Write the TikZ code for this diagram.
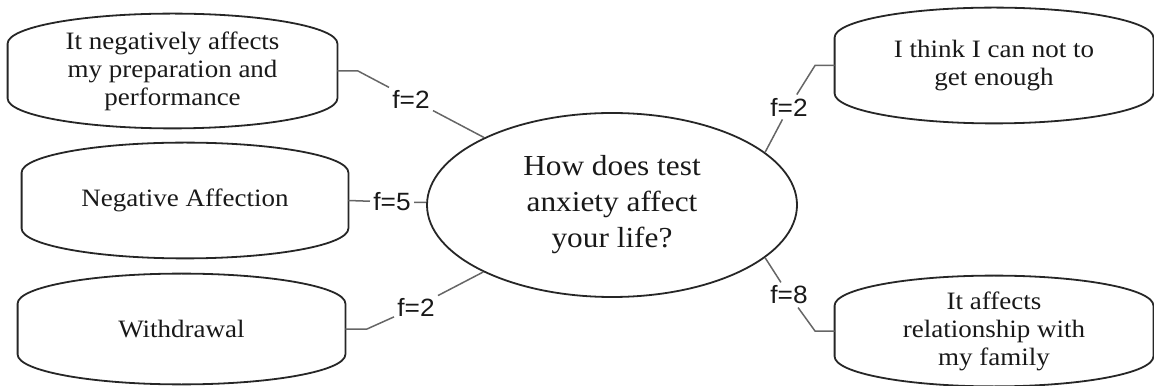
\documentclass[tikz,border=0pt]{standalone}
\usepackage{fontspec}
\setmainfont{Liberation Serif}[FakeStretch=1.08]
\newfontfamily\labelfont{Liberation Sans}[FakeStretch=1.05]
\usetikzlibrary{shapes.geometric, calc}

\tikzset{
  capbox/.style={align=center, inner sep=0pt, text=black!90, font=\fontsize{12.5}{14}\selectfont},
  capline/.style={draw=black!85, line width=0.9pt},
  link/.style={draw=black!60, line width=0.75pt},
  freq/.style={font=\labelfont\fontsize{12.5}{13}\selectfont, inner sep=1.5pt, text=black!90}
}

\begin{document}
\begin{tikzpicture}[x=0.5pt, y=0.5pt]
\useasboundingbox (0,0) rectangle (1154,385);

\node[draw=black!85, line width=0.9pt, ellipse, minimum width=185pt, minimum height=92pt, inner sep=0pt, align=center, text=black!90, font=\fontsize{14.5}{18}\selectfont] (q) at (612,180) {How does test\\anxiety affect\\your life?};

\node[capbox, minimum width=164.5pt, minimum height=57pt] (b1) at (172.5,314) {It negatively affects\\my preparation and\\performance};
\node[capbox, minimum width=163pt, minimum height=57.5pt] (b2) at (185,184.5) {Negative Affection};
\node[capbox, minimum width=163.5pt, minimum height=55pt] (b3) at (181.5,56) {Withdrawal};
\node[capbox, minimum width=159pt, minimum height=57.5pt] (b4) at (994,319.5) {I think I can not to\\get enough};
\node[capbox, minimum width=159pt, minimum height=55pt] (b5) at (994,54) {It affects\\relationship with\\my family};

\foreach \b in {b1,b2,b3,b4,b5}
  \draw[capline] let \p1=(\b.north west), \p2=(\b.south east) in
    ([yshift=-15pt]\b.north west) arc[start angle=180, end angle=0, x radius={(\x2-\x1)/2}, y radius=15pt]
    -- ([yshift=15pt]\b.south east) arc[start angle=0, end angle=-180, x radius={(\x2-\x1)/2}, y radius=15pt] -- cycle;

\node[freq] (l1) at (411,286) {f=2};
\node[freq] (l2) at (392,183) {f=5};
\node[freq] (l3) at (416,78) {f=2};
\node[freq] (l4) at (789,278) {f=2};
\node[freq] (l5) at (789,90) {f=8};

\coordinate (k1) at (358,314);
\coordinate (k3) at (367,56);
\coordinate (k4) at (815,319.5);
\coordinate (k5) at (815,54);

\draw[link] (b1.east) -- (k1) -- (l1) -- (q);
\draw[link] (b2.east) -- (l2) -- (q);
\draw[link] (b3.east) -- (k3) -- (l3) -- (q);
\draw[link] (q.19.5) -- (l4) -- (k4) -- (b4.west);
\draw[link] (q.-19) -- (l5) -- (k5) -- (b5.west);

\end{tikzpicture}
\end{document}
